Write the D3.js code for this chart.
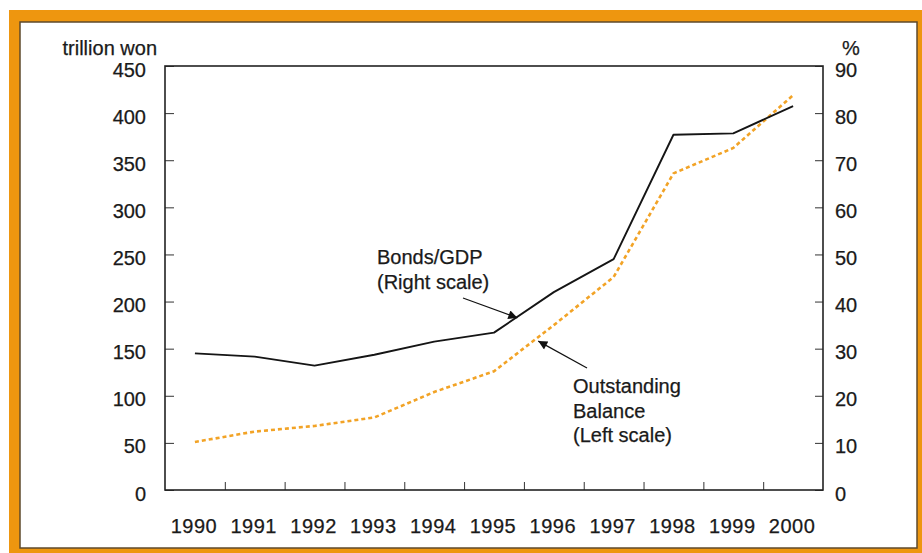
<!DOCTYPE html>
<html>
<head>
<meta charset="utf-8">
<script src="https://cdn.jsdelivr.net/npm/d3@7/dist/d3.min.js"></script>
<style>
  html, body { margin: 0; padding: 0; background: #fff; }
  svg { display: block; }
  text { font-family: "Liberation Sans", Arial, Helvetica, sans-serif; fill: #1a1a1a; stroke: #1a1a1a; stroke-width: 0.25px; }
</style>
</head>
<body>
<svg id="chart" width="922" height="553"></svg>
<script>
// ---- data ----
const years = ["1990","1991","1992","1993","1994","1995","1996","1997","1998","1999","2000"];
const bondsGDP = [29.0, 28.3, 26.4, 28.7, 31.5, 33.4, 42.0, 49.0, 75.4, 75.7, 81.5];      // % (right scale)
const outstanding = [51, 62, 68, 77, 104, 126, 175, 226, 336, 363, 419];                   // trillion won (left scale)
const leftTicks = [0, 50, 100, 150, 200, 250, 300, 350, 400, 450];
const rightTicks = [0, 10, 20, 30, 40, 50, 60, 70, 80, 90];
const leftUnit = "trillion won";
const rightUnit = "%";
const bondsLabel = ["Bonds/GDP", "(Right scale)"];
const balanceLabel = ["Outstanding", "Balance", "(Left scale)"];

// ---- layout ----
const svg = d3.select("#chart");
const L = 165, R = 823, T = 66, B = 490;
const orange = "#EE960F";

// frame
svg.append("rect").attr("x", 9).attr("y", 10).attr("width", 940).attr("height", 570).attr("fill", orange);
svg.append("rect").attr("x", 20).attr("y", 22).attr("width", 897).attr("height", 526)
  .attr("fill", "#fff").attr("stroke", "#5e4a2c").attr("stroke-width", 1.5);

// scales
const x = d3.scaleBand().domain(years).range([L, R]).padding(0);
const xb = d3.scaleLinear().domain([0, years.length]).range([L, R]);
const yL = d3.scaleLinear().domain([0, 450]).range([B, T]);
const yR = d3.scaleLinear().domain([0, 90]).range([B, T]);
const cx = d => x(d) + x.bandwidth() / 2;

const fontSize = "20px";

// left axis
const gL = svg.append("g").attr("transform", `translate(${L},0)`)
  .call(d3.axisLeft(yL).tickValues(leftTicks).tickSize(-9).tickPadding(19));
gL.select(".domain").remove();
gL.selectAll("text").style("font-size", fontSize).attr("dy", "0.5em");
gL.selectAll("line").attr("stroke", "#333").attr("stroke-width", 1);

// right axis
const gR = svg.append("g").attr("transform", `translate(${R},0)`)
  .call(d3.axisRight(yR).tickValues(rightTicks).tickSize(-8).tickPadding(12));
gR.select(".domain").remove();
gR.selectAll("text").style("font-size", fontSize).attr("dy", "0.5em");
gR.selectAll("line").attr("stroke", "#333").attr("stroke-width", 1);

// bottom tick marks at band boundaries
const gBt = svg.append("g").attr("transform", `translate(0,${B})`)
  .call(d3.axisBottom(xb).tickValues(d3.range(1, years.length)).tickSize(-8).tickFormat(""));
gBt.select(".domain").remove();
gBt.selectAll("line").attr("stroke", "#333").attr("stroke-width", 1);

// bottom labels
const gB = svg.append("g").attr("transform", `translate(0,${B})`)
  .call(d3.axisBottom(x).tickSize(0).tickPadding(29));
gB.select(".domain").remove();
gB.selectAll("text").style("font-size", fontSize).style("letter-spacing", "0.5px").attr("dx", "-1px");

// plot frame
svg.append("rect").attr("x", L).attr("y", T).attr("width", R - L).attr("height", B - T)
  .attr("fill", "none").attr("stroke", "#222").attr("stroke-width", 1.6);

// unit labels
svg.append("text").attr("x", 157).attr("y", 55).attr("text-anchor", "end")
  .style("font-size", fontSize).text(leftUnit);
svg.append("text").attr("x", 842).attr("y", 55)
  .style("font-size", fontSize).text(rightUnit);

// lines
const lineL = d3.line().x((d, i) => cx(years[i])).y(d => yL(d));
const lineR = d3.line().x((d, i) => cx(years[i])).y(d => yR(d));

svg.append("path").datum(outstanding).attr("d", lineL)
  .attr("fill", "none").attr("stroke", "#F2A326").attr("stroke-width", 2.6)
  .attr("stroke-dasharray", "4,3");
svg.append("path").datum(bondsGDP).attr("d", lineR)
  .attr("fill", "none").attr("stroke", "#151515").attr("stroke-width", 1.9)
  .attr("stroke-linejoin", "round");

// annotations
const defs = svg.append("defs");
defs.append("marker").attr("id", "ah").attr("viewBox", "0 0 10 10")
  .attr("refX", 10).attr("refY", 5).attr("markerWidth", 13).attr("markerHeight", 9)
  .attr("markerUnits", "userSpaceOnUse").attr("orient", "auto")
  .append("path").attr("d", "M0,0 L10,5 L0,10 z").attr("fill", "#111");

function interp(arr, i, f) { return arr[i] + (arr[i + 1] - arr[i]) * f; }
// Bonds/GDP arrow tip on the black line between 1995 and 1996
const f1 = 0.39;
const tip1 = [cx(years[5]) + f1 * x.bandwidth(), yR(interp(bondsGDP, 5, f1)) + 1];
svg.append("line").attr("x1", 463).attr("y1", 298).attr("x2", tip1[0]).attr("y2", tip1[1])
  .attr("stroke", "#111").attr("stroke-width", 1.2).attr("marker-end", "url(#ah)");
// Outstanding arrow tip near the dashed line between 1995 and 1996
const f2 = 0.74;
const tip2 = [cx(years[5]) + f2 * x.bandwidth(), yL(interp(outstanding, 5, f2)) + 4];
svg.append("line").attr("x1", 587).attr("y1", 368).attr("x2", tip2[0]).attr("y2", tip2[1])
  .attr("stroke", "#111").attr("stroke-width", 1.2).attr("marker-end", "url(#ah)");

bondsLabel.forEach((t, i) => {
  svg.append("text").attr("x", 377).attr("y", 264 + i * 25).style("font-size", fontSize).text(t);
});
balanceLabel.forEach((t, i) => {
  svg.append("text").attr("x", 573).attr("y", 393 + i * 24.5).style("font-size", fontSize).text(t);
});
</script>
</body>
</html>
